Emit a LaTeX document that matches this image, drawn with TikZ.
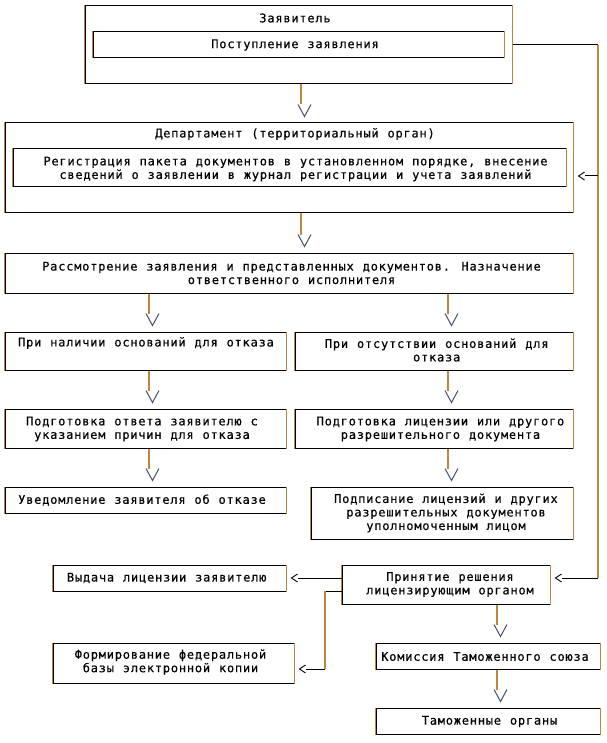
\documentclass[tikz,border=0pt]{standalone}
\usepackage{fontspec}
\usetikzlibrary{fit,calc}
\newfontfamily\monof{DejaVu Sans Mono}[LetterSpace=6.5,WordSpace=1.108,FakeBold=0.3]
\definecolor{vcol}{RGB}{190,135,60}
\definecolor{acol}{RGB}{70,80,110}
\begin{document}
\begin{tikzpicture}[x=1pt,y=-1pt,
  bx/.style={draw=black,line width=1pt,inner sep=0pt},
  tx/.style={font=\fontsize{12}{13.5}\selectfont\monof,align=center,inner sep=0pt,text=black},
  vl/.style={draw=vcol,line width=1.2pt},
  hl/.style={draw=black,line width=1pt},
  vh/.style={draw=acol,line width=1pt},
  ah/.style={draw=black,line width=0.9pt}]
\useasboundingbox (0,0) rectangle (606,743);
\fill[white] (0,0) rectangle (606,743);

% boxes
\node[bx,fit={(85,6) (512,84)}] (A) {};
\node[bx,fit={(93,32) (504,58)}] (A1) {};
\node[bx,fit={(5,123) (573,213)}] (B) {};
\node[bx,fit={(13,149) (566,187)}] (B1) {};
\node[bx,fit={(5,253) (573,293)}] (C) {};
\node[bx,fit={(5,332) (286,370)}] (D1) {};
\node[bx,fit={(295,332) (573,370)}] (D2) {};
\node[bx,fit={(5,409) (286,448)}] (E1) {};
\node[bx,fit={(295,409) (573,448)}] (E2) {};
\node[bx,fit={(5,487) (286,513)}] (F1) {};
\node[bx,fit={(311,487) (573,539)}] (F2) {};
\node[bx,fit={(342,565) (550,604)}] (G) {};
\node[bx,fit={(53,565) (286,591)}] (H) {};
\node[bx,fit={(53,643) (294,683)}] (I) {};
\node[bx,fit={(376,643) (600,669)}] (J) {};
\node[bx,fit={(376,708) (600,734)}] (K) {};
\foreach \n in {A,A1,B,B1,C,D1,D2,E1,E2,F1,F2,G,H,I,J,K}{
  \draw[vl] (\n.north west) -- (\n.south west);
  \draw[vl] (\n.north east) -- (\n.south east);}

% texts
\node[tx] (tA) at (295,18) {Заявитель};
\node[tx] (tA1) at (295,45) {Поступление заявления};
\node[tx] (tB) at (295,134) {Департамент (территориальный орган)};
\node[tx] (tB1) at (295.5,169) {Регистрация пакета документов в установленном порядке, внесение\\сведений о заявлении в журнал регистрации и учета заявлений};
\node[tx] (tC) at (291.5,273) {Рассмотрение заявления и представленных документов. Назначение\\ответственного исполнителя};
\node[tx] (tD1) at (146,343) {При наличии оснований для отказа};
\node[tx] (tD2) at (436.7,350) {При отсутствии оснований для\\отказа};
\node[tx] (tE1) at (142,429) {Подготовка ответа заявителю с\\указанием причин для отказа};
\node[tx] (tE2) at (440.5,429) {Подготовка лицензии или другого\\разрешительного документа};
\node[tx] (tF1) at (142,500) {Уведомление заявителя об отказе};
\node[tx] (tF2) at (446,513) {Подписание лицензий и других\\разрешительных документов\\уполномоченным лицом};
\node[tx] (tG) at (450,584.5) {Принятие решения\\лицензирующим органом};
\node[tx] (tH) at (166.7,578) {Выдача лицензии заявителю};
\node[tx] (tI) at (170.5,662) {Формирование федеральной\\базы электронной копии};
\node[tx] (tJ) at (485,656.5) {Комиссия Таможенного союза};
\node[tx] (tK) at (489.5,721.5) {Таможенные органы};

% vertical arrows with V heads
\newcommand\varr[3]{%
  \draw[vl] (#2.south -| #1,0) -- ($(#3.north -| #1,0)+(0,-18)$);
  \draw[vh] ($(#3.north -| #1,0)+(-3,-18)$) -- ($(#3.north -| #1,0)+(3.5,-6)$) -- ($(#3.north -| #1,0)+(10,-18)$);}
\varr{301}{A}{B}
\varr{301}{B}{C}
\varr{149}{C}{D1}
\varr{448}{C}{D2}
\varr{149}{D1}{E1}
\varr{448}{D2}{E2}
\varr{149}{E1}{F1}
\varr{448}{E2}{F2}
\varr{497}{G}{J}
\varr{497}{J}{K}

% left-pointing heads
\newcommand\lhead[1]{%
  \draw[ah] ($#1+(11,-4)$) -- ($#1+(5,0)$) -- ($#1+(11,4)$);}

% right-hand return connector
\coordinate (r1) at (598,45);
\coordinate (r2) at (598,578);
\coordinate (r3) at (598,176);
\draw[hl] (A.east) -- (r1);
\draw[vl] (r1) -- (r2);
\draw[hl] (r2) -- ($(G.east |- r2)+(11,0)$);
\lhead{(G.east |- r2)}
\draw[hl] (r3) -- ($(B.east |- r3)+(11,0)$);
\lhead{(B.east |- r3)}

% decision to issue
\draw[hl] (G.west |- H.east) -- ($(H.east)+(11,0)$);
\lhead{(H.east)}

% decision to federal base
\coordinate (gi1) at (325,591);
\coordinate (gi2) at (325,669);
\draw[hl] (G.west |- gi1) -- (gi1);
\draw[vl] (gi1) -- (gi2);
\draw[hl] (gi2) -- ($(I.east |- gi2)+(11,0)$);
\lhead{(I.east |- gi2)}
\end{tikzpicture}
\end{document}
